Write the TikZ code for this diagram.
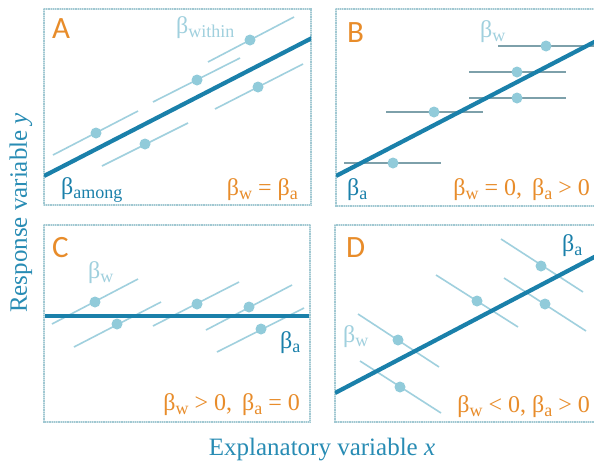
\documentclass[tikz,border=0pt]{standalone}
\usepackage{fontspec}
\setmainfont{Liberation Serif}
\newfontfamily\lblfont{Carlito}
\definecolor{darkc}{RGB}{26,128,170}
\definecolor{lightc}{RGB}{160,208,222}
\definecolor{dotc}{RGB}{145,203,218}
\definecolor{greyw}{RGB}{125,160,170}
\definecolor{orng}{RGB}{232,140,42}
\definecolor{axisc}{RGB}{40,140,180}
\definecolor{framec}{RGB}{160,200,210}
\definecolor{framel}{RGB}{210,228,232}
\newcommand{\bsub}[1]{β\raisebox{-4pt}{\fontsize{18}{18}\selectfont #1}}
\tikzset{
  framebox/.style={draw=framel, line width=1.6pt},
  framedots/.style={draw=framec, line width=1.6pt, dash pattern=on 0.9pt off 0.9pt},
  mainline/.style={draw=darkc, line width=4.2pt},
  within/.style={draw=lightc, line width=1.6pt},
  withinb/.style={draw=greyw, line width=1.6pt},
  dotn/.style={circle, fill=dotc, inner sep=0pt, minimum size=11pt},
  letter/.style={font=\lblfont\fontsize{31}{31}\selectfont, text=orng, anchor=base west, inner sep=0pt},
  beta/.style={font=\fontsize{24}{24}\selectfont, anchor=base west, inner sep=0pt},
  formula/.style={font=\fontsize{24}{24}\selectfont, text=orng, anchor=base east, inner sep=0pt},
  axislabel/.style={font=\fontsize{25}{25}\selectfont, text=axisc, anchor=base, inner sep=0pt}
}
\begin{document}
\begin{tikzpicture}[x=1pt,y=-1pt]
\clip (0,0) rectangle (594,461);
\fill[white] (0,0) rectangle (594,461);

% frames
\draw[framebox] (44,9) rectangle (311,205);
\draw[framedots] (44,9) rectangle (311,205);
\draw[framebox] (336,9) rectangle (604,206);
\draw[framedots] (336,9) rectangle (604,206);
\draw[framebox] (44,225) rectangle (310,422);
\draw[framedots] (44,225) rectangle (310,422);
\draw[framebox] (335,225) rectangle (604,422);
\draw[framedots] (335,225) rectangle (604,422);

% ---------- Panel A ----------
\draw[within] (208,62) -- (294,17);
\draw[within] (153,102) -- (240,58);
\draw[within] (215,109) -- (303,64);
\draw[within] (53,155) -- (138,111);
\draw[within] (102,166) -- (188,123);
\begin{scope}
\clip (44,9) rectangle (311,205);
\draw[mainline] (44,176) -- (312,38);
\end{scope}
\node[dotn] (a1) at (250,40) {};
\node[dotn] (a2) at (197,80) {};
\node[dotn] (a3) at (258,87) {};
\node[dotn] (a4) at (96,133) {};
\node[dotn] (a5) at (145,144) {};
\node[letter] (la) at (52,38) {A};
\node[beta, text=lightc] (awithin) at (176,33) {\bsub{within}};
\node[beta, text=darkc] (aamong) at (61,194) {\bsub{among}};
\node[formula] (fa) at (298,195) {\bsub{w} = \bsub{a}};

% ---------- Panel B ----------
\draw[withinb] (498,46) -- (600,46);
\draw[withinb] (469,72) -- (566,72);
\draw[withinb] (469,98) -- (566,98);
\draw[withinb] (386,112) -- (483,112);
\draw[withinb] (344,163) -- (441,163);
\begin{scope}
\clip (336,9) rectangle (604,206);
\draw[mainline] (336,176) -- (600,39);
\end{scope}
\node[dotn] (b1) at (546,46) {};
\node[dotn] (b2) at (517,72) {};
\node[dotn] (b3) at (517,98) {};
\node[dotn] (b4) at (434,112) {};
\node[dotn] (b5) at (393,163) {};
\node[letter] (lb) at (347,42) {B};
\node[beta, text=lightc] (bw) at (480,37) {\bsub{w}};
\node[beta, text=darkc] (ba) at (347,195) {\bsub{a}};
\node[formula] (fb) at (590,195) {\bsub{w} = 0,\, \bsub{a} > 0};

% ---------- Panel C ----------
\draw[within] (52,324) -- (138,279);
\draw[within] (74,347) -- (161,302);
\draw[within] (153,326) -- (239,282);
\draw[within] (206,330) -- (292,285);
\draw[within] (217,352) -- (304,308);
\draw[mainline] (45,316) -- (309,316);
\node[dotn] (c1) at (95,302) {};
\node[dotn] (c2) at (117,324) {};
\node[dotn] (c3) at (197,304) {};
\node[dotn] (c4) at (249,307) {};
\node[dotn] (c5) at (261,329) {};
\node[letter] (lc) at (52,257) {C};
\node[beta, text=lightc] (cw) at (88,278) {\bsub{w}};
\node[beta, text=darkc] (ca) at (280,348) {\bsub{a}};
\node[formula] (fc) at (300,410) {\bsub{w} > 0,\, \bsub{a} = 0};

% ---------- Panel D ----------
\draw[within] (501,239) -- (583,292);
\draw[within] (436,275) -- (518,327);
\draw[within] (504,278) -- (586,331);
\draw[within] (358,314) -- (439,367);
\draw[within] (360,361) -- (441,413);
\begin{scope}
\clip (335,225) rectangle (604,422);
\draw[mainline] (335,393) -- (600,254);
\end{scope}
\node[dotn] (d1) at (541,266) {};
\node[dotn] (d2) at (477,301) {};
\node[dotn] (d3) at (545,304) {};
\node[dotn] (d4) at (398,340) {};
\node[dotn] (d5) at (400,387) {};
\node[letter] (ld) at (346,257) {D};
\node[beta, text=darkc] (da) at (562,251) {\bsub{a}};
\node[beta, text=lightc] (dw) at (343,342) {\bsub{w}};
\node[formula] (fd) at (590,412) {\bsub{w} < 0, \bsub{a} > 0};

% ---------- Axis labels ----------
\node[axislabel] (xlab) at (322,455) {Explanatory variable \textit{x}};
\node[axislabel, rotate=90] (ylab) at (27,213) {Response variable \textit{y}};
\end{tikzpicture}
\end{document}
